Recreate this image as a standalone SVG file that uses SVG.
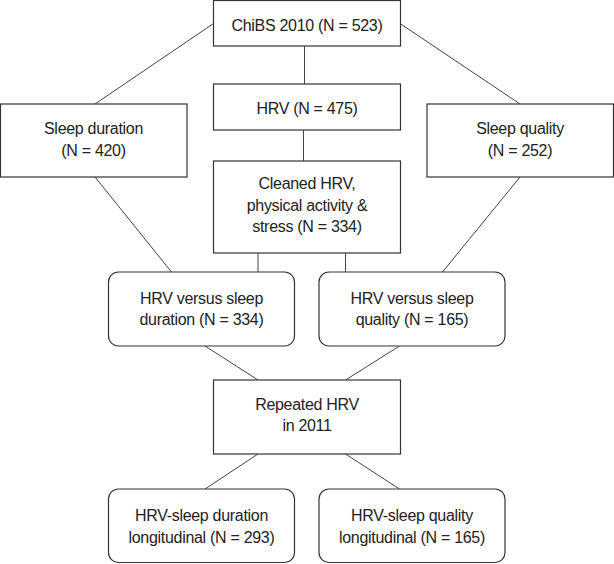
<svg xmlns="http://www.w3.org/2000/svg" width="614" height="564" viewBox="0 0 614 564">
<style>
.box{fill:#fff;stroke:#333;stroke-width:1.2}
.ln{fill:none;stroke:#444;stroke-width:1}
text{font-family:"Liberation Sans",Arial,sans-serif;font-size:16px;fill:#222;text-anchor:middle;letter-spacing:-0.3px}
</style>
<rect width="614" height="564" fill="#fff"/>
<g id="connectors">
<line class="ln" x1="213.5" y1="23.5" x2="95" y2="104"/>
<line class="ln" x1="400" y1="23.5" x2="520" y2="104"/>
<line class="ln" x1="304.5" y1="46" x2="304.5" y2="84"/>
<line class="ln" x1="303.5" y1="130" x2="303.5" y2="161"/>
<line class="ln" x1="95" y1="177" x2="171.5" y2="272"/>
<line class="ln" x1="520" y1="177" x2="442.5" y2="272"/>
<line class="ln" x1="258" y1="253" x2="258" y2="272"/>
<line class="ln" x1="345.5" y1="253" x2="345.5" y2="272"/>
<line class="ln" x1="205" y1="346" x2="258" y2="380"/>
<line class="ln" x1="399.5" y1="346" x2="345.5" y2="380"/>
<line class="ln" x1="258" y1="454" x2="205" y2="489"/>
<line class="ln" x1="345.5" y1="454" x2="399.5" y2="489"/>
</g>
<g id="chibs">
<rect class="box" x="213.5" y="0.5" width="187" height="45.5"/>
<text x="307" y="30.5">ChiBS 2010 (N = 523)</text>
</g>
<g id="hrv">
<rect class="box" x="213.5" y="84" width="187" height="46"/>
<text x="307" y="114">HRV (N = 475)</text>
</g>
<g id="sleep-duration">
<rect class="box" x="0.5" y="104" width="186.5" height="73"/>
<text x="93.5" y="134">Sleep duration</text>
<text x="93.5" y="156">(N = 420)</text>
</g>
<g id="sleep-quality">
<rect class="box" x="427" y="104" width="186.5" height="73"/>
<text x="520" y="134">Sleep quality</text>
<text x="520" y="156">(N = 252)</text>
</g>
<g id="cleaned">
<rect class="box" x="213.5" y="161" width="187" height="92"/>
<text x="307" y="189">Cleaned HRV,</text>
<text x="307" y="211">physical activity &amp;</text>
<text x="307" y="232">stress (N = 334)</text>
</g>
<g id="hrv-duration">
<rect class="box" x="108.5" y="272" width="186" height="74" rx="10"/>
<text x="201.5" y="304">HRV versus sleep</text>
<text x="201.5" y="325">duration (N = 334)</text>
</g>
<g id="hrv-quality">
<rect class="box" x="319" y="272" width="186" height="74" rx="10"/>
<text x="412" y="304">HRV versus sleep</text>
<text x="412" y="325">quality (N = 165)</text>
</g>
<g id="repeated">
<rect class="box" x="213.5" y="380" width="187" height="74"/>
<text x="307" y="410">Repeated HRV</text>
<text x="307" y="431">in 2011</text>
</g>
<g id="long-duration">
<rect class="box" x="108.5" y="489" width="186" height="73.5" rx="10"/>
<text x="201.5" y="521">HRV-sleep duration</text>
<text x="201.5" y="543">longitudinal (N = 293)</text>
</g>
<g id="long-quality">
<rect class="box" x="319" y="489" width="186" height="73.5" rx="10"/>
<text x="412" y="521">HRV-sleep quality</text>
<text x="412" y="543">longitudinal (N = 165)</text>
</g>
</svg>
